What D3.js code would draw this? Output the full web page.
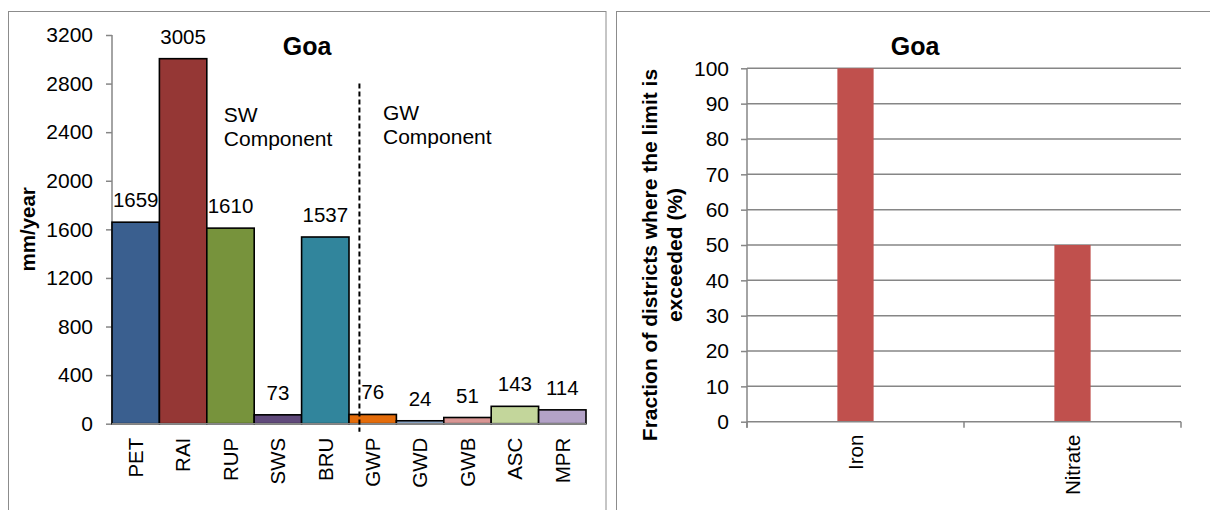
<!DOCTYPE html>
<html>
<head>
<meta charset="utf-8">
<script src="https://cdn.jsdelivr.net/npm/d3@7"></script>
<style>
  html, body { margin: 0; padding: 0; background: #fff; }
  svg { display: block; }
  text { font-family: "Liberation Sans", Arial, sans-serif; fill: #000; }
</style>
</head>
<body>
<svg id="chart" width="1210" height="510"></svg>
<script>
// Water balance components for Goa (mm/year)
const componentCodes = ["PET", "RAI", "RUP", "SWS", "BRU", "GWP", "GWD", "GWB", "ASC", "MPR"];
const componentValues = [1659, 3005, 1610, 73, 1537, 76, 24, 51, 143, 114];
const componentColors = ["#3a5f8f", "#953735", "#77933c", "#604a7b", "#31859c",
                         "#e46c0a", "#95b3d7", "#d99694", "#c3d69b", "#b3a2c7"];
const waterTicks = [0, 400, 800, 1200, 1600, 2000, 2400, 2800, 3200];

// Share of districts exceeding the water-quality limit (%)
const qualityParams = ["Iron", "Nitrate"];
const qualityValues = [100, 50];
const qualityTicks = [0, 10, 20, 30, 40, 50, 60, 70, 80, 90, 100];

const svg = d3.select("#chart");
const axisGrey = "#868686";
const fontSize = 21;

// panel frames
svg.append("rect").attr("x", 8.5).attr("y", 11.5).attr("width", 597.5).attr("height", 530)
  .attr("fill", "none").attr("stroke", "#8c8c8c").attr("stroke-width", 1);
svg.append("rect").attr("x", 616.5).attr("y", 11.5).attr("width", 598).attr("height", 530)
  .attr("fill", "none").attr("stroke", "#8c8c8c").attr("stroke-width", 1);

// ---------- left chart: water balance ----------
const xL = d3.scaleBand().domain(componentCodes).range([112, 586]).padding(0);
const yL = d3.scaleLinear().domain([0, 3200]).range([423.7, 35]);
const left = svg.append("g");

// y axis
const yAxisL = left.append("g").attr("transform", `translate(${xL.range()[0]},0)`)
  .call(d3.axisLeft(yL).tickValues(waterTicks).tickSize(6).tickPadding(13).tickFormat(d3.format("d")));
yAxisL.select(".domain").attr("stroke", axisGrey).attr("stroke-width", 1.5).attr("d", `M0,${yL(3200)}V${yL(0)}`);
yAxisL.selectAll(".tick line").attr("stroke", axisGrey).attr("stroke-width", 1.5);
yAxisL.selectAll(".tick text").style("font-size", fontSize + "px").attr("fill", "#000");

// bars
left.selectAll("rect.bar").data(componentCodes).join("rect")
  .attr("class", "bar")
  .attr("x", d => xL(d))
  .attr("y", (d, i) => yL(componentValues[i]))
  .attr("width", xL.bandwidth())
  .attr("height", (d, i) => yL(0) - yL(componentValues[i]))
  .attr("fill", (d, i) => componentColors[i])
  .attr("stroke", "#000").attr("stroke-width", 1.6);

// x axis line
left.append("line").attr("x1", xL.range()[0]).attr("x2", xL.range()[1])
  .attr("y1", yL(0)).attr("y2", yL(0)).attr("stroke", axisGrey).attr("stroke-width", 1.5);

// value labels
left.selectAll("text.val").data(componentCodes).join("text")
  .attr("class", "val")
  .attr("x", d => xL(d) + xL.bandwidth() / 2)
  .attr("y", (d, i) => yL(componentValues[i]) - 15)
  .attr("text-anchor", "middle")
  .style("font-size", "20.5px")
  .text((d, i) => componentValues[i]);

// category labels (rotated)
left.selectAll("text.cat").data(componentCodes).join("text")
  .attr("class", "cat")
  .attr("transform", d => `translate(${xL(d) + xL.bandwidth() / 2},${yL(0) + 14}) rotate(-90)`)
  .attr("text-anchor", "end")
  .attr("dy", "0.36em")
  .style("font-size", "20.5px")
  .text(d => d);

// y-axis title
left.append("text")
  .attr("transform", `translate(35,${(yL(0) + yL(3200)) / 2}) rotate(-90)`)
  .attr("text-anchor", "middle")
  .style("font-size", "20.5px").style("font-weight", "bold")
  .text("mm/year");

// title
left.append("text").attr("x", 307).attr("y", 55).attr("text-anchor", "middle")
  .style("font-size", "25px").style("font-weight", "bold").text("Goa");

// divider between surface-water and groundwater components
const divX = xL("GWP") + xL.bandwidth() * 0.22;
left.append("line").attr("x1", divX).attr("x2", divX)
  .attr("y1", yL(2800)).attr("y2", yL(0) + 8)
  .attr("stroke", "#000").attr("stroke-width", 2).attr("stroke-dasharray", "5,3");

const swX = xL("RUP") + 17, gwX = xL("GWP") + 34;
[["SW", 121.5], ["Component", 145.5]].forEach(([t, yy]) =>
  left.append("text").attr("x", swX).attr("y", yy).style("font-size", "21px").text(t));
[["GW", 119.5], ["Component", 143.5]].forEach(([t, yy]) =>
  left.append("text").attr("x", gwX).attr("y", yy).style("font-size", "21px").text(t));

// ---------- right chart: water quality ----------
const xR = d3.scaleBand().domain(qualityParams).range([747, 1181]).padding(0);
const yR = d3.scaleLinear().domain([0, 100]).range([421.7, 68.3]);
const right = svg.append("g");

// gridlines
right.selectAll("line.grid").data(qualityTicks.filter(d => d > 0)).join("line")
  .attr("class", "grid")
  .attr("x1", xR.range()[0]).attr("x2", xR.range()[1])
  .attr("y1", d => yR(d)).attr("y2", d => yR(d))
  .attr("stroke", axisGrey).attr("stroke-width", 1.5);

// bars
const barW = xR.bandwidth() * 0.167;
right.selectAll("rect.bar").data(qualityParams).join("rect")
  .attr("class", "bar")
  .attr("x", d => xR(d) + xR.bandwidth() / 2 - barW / 2)
  .attr("y", (d, i) => yR(qualityValues[i]))
  .attr("width", barW)
  .attr("height", (d, i) => yR(0) - yR(qualityValues[i]))
  .attr("fill", "#c0504d");

// y axis
const yAxisR = right.append("g").attr("transform", `translate(${xR.range()[0]},0)`)
  .call(d3.axisLeft(yR).tickValues(qualityTicks).tickSize(6).tickPadding(12));
yAxisR.select(".domain").attr("stroke", axisGrey).attr("stroke-width", 1.5).attr("d", `M0,${yR(100)}V${yR(0) + 6}`);
yAxisR.selectAll(".tick line").attr("stroke", axisGrey).attr("stroke-width", 1.5);
yAxisR.selectAll(".tick text").style("font-size", fontSize + "px").attr("fill", "#000");

// x axis with ticks at category boundaries
const xAxisR = right.append("g").attr("transform", `translate(0,${yR(0)})`);
xAxisR.append("line").attr("x1", xR.range()[0]).attr("x2", xR.range()[1])
  .attr("stroke", axisGrey).attr("stroke-width", 1.5);
xAxisR.selectAll("line.tk").data(qualityParams.map(d => xR(d) + xR.bandwidth()).concat([xR.range()[0]]))
  .join("line").attr("class", "tk")
  .attr("x1", d => d).attr("x2", d => d).attr("y1", 0).attr("y2", 6)
  .attr("stroke", axisGrey).attr("stroke-width", 1.5);

right.selectAll("text.cat").data(qualityParams).join("text")
  .attr("class", "cat")
  .attr("transform", d => `translate(${xR(d) + xR.bandwidth() / 2},${yR(0) + 13}) rotate(-90)`)
  .attr("text-anchor", "end")
  .attr("dy", "0.36em")
  .style("font-size", "20.5px")
  .text(d => d);

// y-axis title (two lines)
const yTitle = right.append("text")
  .attr("transform", `translate(657,255) rotate(-90)`)
  .attr("text-anchor", "middle")
  .style("font-size", "21px").style("font-weight", "bold");
yTitle.append("tspan").attr("x", 0).attr("y", 0).text("Fraction of districts where the limit is");
yTitle.append("tspan").attr("x", 0).attr("y", 25).text("exceeded (%)");

right.append("text").attr("x", 915).attr("y", 55).attr("text-anchor", "middle")
  .style("font-size", "25px").style("font-weight", "bold").text("Goa");
</script>
</body>
</html>
